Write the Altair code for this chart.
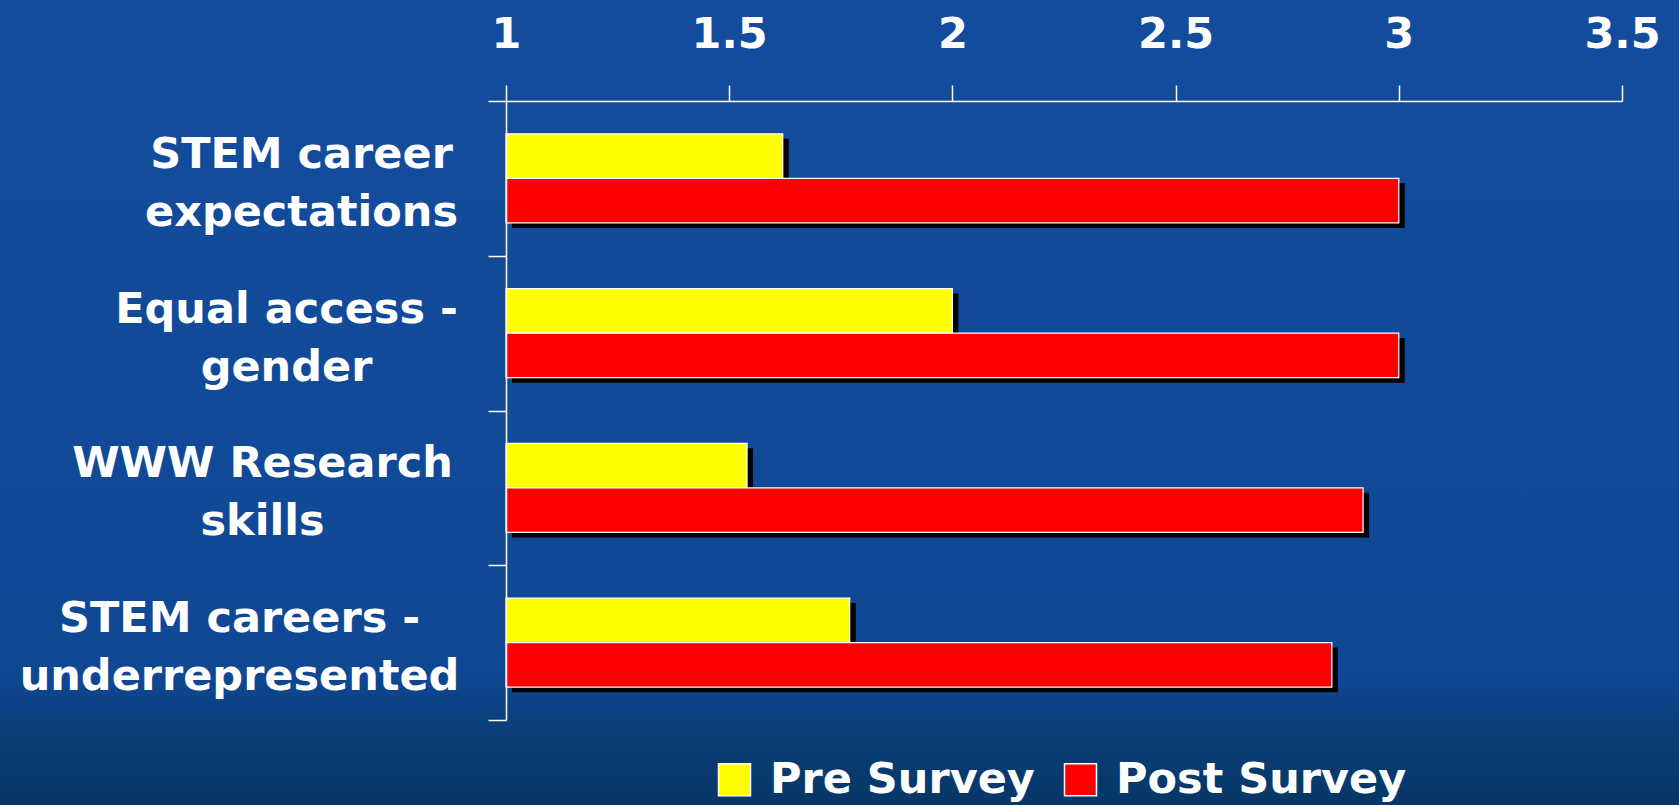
import altair as alt
import pandas as pd

# ---- data ----
categories = ["STEM career|expectations", "Equal access -|gender",
              "WWW Research|skills", "STEM careers -|underrepresented"]
series = ["Pre Survey", "Post Survey"]
pre_values = [1.62, 2.00, 1.54, 1.77]
post_values = [3.00, 3.00, 2.92, 2.85]
x_ticks = [1, 1.5, 2, 2.5, 3, 3.5]
colors = ["#ffff00", "#ff0000"]

rows = []
for c, p, q in zip(categories, pre_values, post_values):
    rows.append({"category": c, "series": series[0], "value": p})
    rows.append({"category": c, "series": series[1], "value": q})
df = pd.DataFrame(rows)

# ---- layout / style ----
TOTAL_W, TOTAL_H = 1679, 805
PAD_L, PAD_T = 506, 101
W, H = 1116, 619
FONT = "DejaVu Sans"
FS = 43
Y_TICK = 18
label_centre_dist = [205, 220, 244, 267]   # distance of each label block centre from the axis

pad_cond = [{"test": f"datum.value === '{c}'", "value": d - Y_TICK}
            for c, d in zip(categories[:-1], label_centre_dist[:-1])]
label_padding = {"condition": pad_cond, "value": label_centre_dist[-1] - Y_TICK}

x_enc = alt.X("value:Q",
              scale=alt.Scale(domain=[1, 3.5], zero=False, nice=False),
              axis=alt.Axis(orient="top", values=x_ticks, format="~g", title=None,
                            grid=False, zindex=1, tickSize=16, tickColor="white",
                            tickWidth=1.5, domainColor="white", domainWidth=1.5,
                            labelFont=FONT, labelFontSize=FS, labelFontWeight="bold",
                            labelColor="white", labelPadding=29, labelFlush=False,
                            labelOverlap=False))
y_enc = alt.Y("category:N", sort=categories,
              scale=alt.Scale(paddingInner=0, paddingOuter=0),
              axis=alt.Axis(title=None, grid=False, zindex=1, tickBand="extent",
                            tickSize=Y_TICK, tickColor="white", tickWidth=1.5,
                            domainColor="white", domainWidth=1.5,
                            labelExpr="split(datum.label, '|')",
                            labelAlign="center", labelBaseline="middle",
                            labelPadding=label_padding, labelOffset=-24,
                            labelLineHeight=58, labelLimit=700,
                            labelFont=FONT, labelFontSize=FS, labelFontWeight="bold",
                            labelColor="white"))

base = alt.Chart(df)

shadow = base.mark_bar(color="black", xOffset=6, x2Offset=6).encode(
    x=x_enc, x2=alt.datum(1), y=y_enc,
    yOffset=alt.YOffset("series:N", sort=series,
                        scale=alt.Scale(paddingInner=0, paddingOuter=0.7376, align=0.576)),
)

bars = base.mark_bar(stroke="white", strokeWidth=1.2).encode(
    x=x_enc, x2=alt.datum(1), y=y_enc,
    yOffset=alt.YOffset("series:N", sort=series,
                        scale=alt.Scale(paddingInner=0, paddingOuter=0.7376)),
    color=alt.Color("series:N", sort=series,
                    scale=alt.Scale(domain=series, range=colors),
                    legend=alt.Legend(title=None, orient="none", direction="horizontal",
                                      legendX=207, legendY=657, padding=0,
                                      symbolType="square", symbolSize=1024,
                                      symbolStrokeColor="white", symbolStrokeWidth=1.5,
                                      symbolOpacity=1, labelOffset=14, columnPadding=24,
                                      labelFont=FONT, labelFontSize=FS,
                                      labelFontWeight="bold", labelColor="white",
                                      labelLimit=500)),
)

bg = alt.Chart(pd.DataFrame({"z": [0]})).mark_rect(
    fill=alt.LinearGradient(
        gradient="linear", x1=0, x2=0, y1=0, y2=1,
        stops=[alt.GradientStop(color="#134c9c", offset=0),
               alt.GradientStop(color="#114a98", offset=0.5),
               alt.GradientStop(color="#0f4793", offset=0.84),
               alt.GradientStop(color="#0b3f7a", offset=0.90),
               alt.GradientStop(color="#073766", offset=1)]),
).encode(x=alt.value(-PAD_L), x2=alt.value(TOTAL_W - PAD_L),
         y=alt.value(-PAD_T), y2=alt.value(TOTAL_H - PAD_T))

chart = alt.layer(bg, shadow, bars).resolve_scale(yOffset="independent").properties(
    width=W, height=H, autosize="none",
    padding={"left": PAD_L, "top": PAD_T,
             "right": TOTAL_W - PAD_L - W, "bottom": TOTAL_H - PAD_T - H},
).configure(background="#114a98").configure_view(stroke=None)

chart.save("out.html", embed_options={"renderer": "svg", "actions": False})
